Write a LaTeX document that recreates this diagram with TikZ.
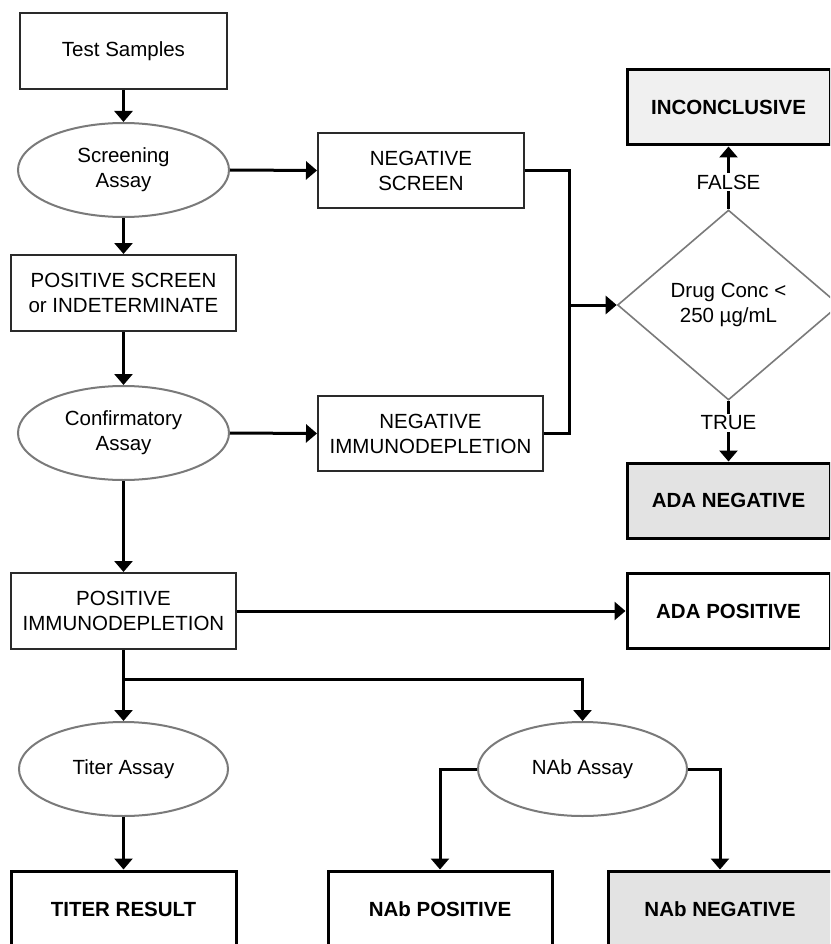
\documentclass[tikz,border=0pt]{standalone}
\usepackage{fontspec}
\setmainfont{Liberation Sans}
\usetikzlibrary{shapes.geometric,arrows.meta}
\definecolor{boxgray}{HTML}{2A2A2A}
\definecolor{ellgray}{HTML}{7A7A7A}
\definecolor{fillA}{HTML}{E3E3E3}
\definecolor{fillB}{HTML}{F0F0F0}
\tikzset{
  lbl/.style={font=\fontsize{20.5}{25}\selectfont, align=center},
  plainbox/.style={lbl, draw=boxgray, line width=2pt, inner sep=0pt},
  boldbox/.style={lbl, font=\fontsize{20.5}{25}\selectfont\bfseries, draw=black, line width=3pt, inner sep=0pt},
  oval/.style={lbl, ellipse, draw=ellgray, line width=2pt, inner sep=0pt},
  arr/.style={draw=black, line width=3pt, -{Triangle[length=11pt,width=18pt]}},
  conn/.style={draw=black, line width=3pt},
  tflabel/.style={lbl, inner sep=2pt}
}
\begin{document}
\begin{tikzpicture}[x=1pt,y=-1pt]
\useasboundingbox (0,0) rectangle (830,944);
\clip (0,0) rectangle (830,944);
\fill[white] (0,0) rectangle (830,944);
% left column
\node[plainbox, minimum width=207pt, minimum height=76pt] (ts) at (123.5,51) {Test Samples};
\node[oval, minimum width=211pt, minimum height=94pt] (scr) at (123.5,170) {Screening\\Assay};
\node[plainbox, minimum width=225pt, minimum height=76pt] (ps) at (123.5,293) {POSITIVE SCREEN\\or INDETERMINATE};
\node[oval, minimum width=211pt, minimum height=94pt] (conf) at (123.5,433) {Confirmatory\\Assay};
\node[plainbox, minimum width=225pt, minimum height=76pt] (pi) at (123.5,611) {POSITIVE\\IMMUNODEPLETION};
% middle column
\node[plainbox, minimum width=206pt, minimum height=75pt] (ns) at (421,170.5) {NEGATIVE\\SCREEN};
\node[plainbox, minimum width=225pt, minimum height=75pt] (ni) at (430.5,433.5) {NEGATIVE\\IMMUNODEPLETION};
% right column
\node[boldbox, fill=fillB, minimum width=203pt, minimum height=75pt] (inc) at (728.5,107.5) {INCONCLUSIVE};
\node[lbl, diamond, draw=ellgray, line width=1.6pt, inner sep=0pt, minimum width=222pt, minimum height=190pt] (dia) at (728.5,305) {Drug Conc <\\250 µg/mL};
\node[boldbox, fill=fillA, minimum width=203pt, minimum height=75pt] (adn) at (728.5,500.5) {ADA NEGATIVE};
\node[boldbox, minimum width=203pt, minimum height=75pt] (adp) at (728.5,611) {ADA POSITIVE};
\node[tflabel] (fl) at (728.5,182) {FALSE};
\node[tflabel] (tr) at (728.5,423) {TRUE};
% bottom
\node[oval, minimum width=209pt, minimum height=94pt] (ta) at (123.5,769) {Titer Assay};
\node[oval, minimum width=209pt, minimum height=94pt] (na) at (582.5,769) {NAb Assay};
\node[boldbox, minimum width=225pt, minimum height=76pt] (tres) at (123.5,909) {TITER RESULT};
\node[boldbox, minimum width=224pt, minimum height=76pt] (npos) at (440,909) {NAb POSITIVE};
\node[boldbox, fill=fillA, minimum width=224pt, minimum height=76pt] (nneg) at (720,909) {NAb NEGATIVE};
% connectors
\coordinate (j) at (569,305);
\coordinate (br) at (123.5,679);
\draw[arr] (ts) -- (scr);
\draw[arr] (scr) -- (ps);
\draw[arr] (ps) -- (conf);
\draw[arr] (conf) -- (pi);
\draw[arr] (scr.east) -- (ns.west);
\draw[arr] (conf.east) -- (ni.west);
\draw[conn] (ns.east) -| (j) |- (ni.east);
\draw[arr] (j) -- (dia.west);
\draw[conn] (dia.north) -- (fl.south);
\draw[arr] (fl.north) -- (inc.south);
\draw[conn] (dia.south) -- (tr.north);
\draw[arr] (tr.south) -- (adn.north);
\draw[arr] (pi.east) -- (adp.west);
\draw[arr] (pi.south) -- (ta.north);
\draw[arr] (br) -| (na.north);
\draw[arr] (ta.south) -- (tres.north);
\draw[arr] (na.west) -| (npos.north);
\draw[arr] (na.east) -| (nneg.north);
\end{tikzpicture}
\end{document}
